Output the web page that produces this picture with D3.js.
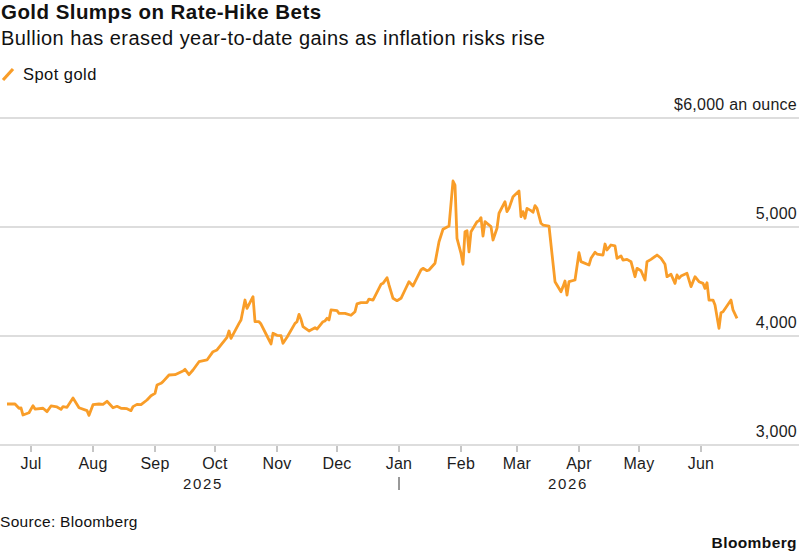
<!DOCTYPE html>
<html>
<head>
<meta charset="utf-8">
<script src="https://cdn.jsdelivr.net/npm/d3@7"></script>
<style>
	body { margin: 0; background: #fff; }
	svg { display: block; font-family: "Liberation Sans", Arial, sans-serif; }
	.grid { stroke: #d2d2d2; stroke-width: 1.3; }
	.tick-mark { stroke: #8c8c8c; stroke-width: 1; }
	.axis-label { font-size: 16px; fill: #1c1c1c; letter-spacing: 0.25px; }
	.year-label { font-size: 15px; fill: #1c1c1c; letter-spacing: 1.6px; }
	.price { fill: none; stroke: #f99d28; stroke-width: 2.8; stroke-linejoin: round; }
</style>
</head>
<body>
<svg id="chart" width="799" height="555"></svg>
<script>
var dates = [
	"2025-06-19", "2025-06-23", "2025-06-25", "2025-06-26", "2025-06-27", "2025-06-30",
	"2025-07-02", "2025-07-03", "2025-07-07", "2025-07-09", "2025-07-11", "2025-07-14",
	"2025-07-16", "2025-07-17", "2025-07-19", "2025-07-22", "2025-07-25", "2025-07-29",
	"2025-07-30", "2025-08-01", "2025-08-04", "2025-08-06", "2025-08-08", "2025-08-11",
	"2025-08-13", "2025-08-15", "2025-08-18", "2025-08-20", "2025-08-21", "2025-08-23",
	"2025-08-25", "2025-08-28", "2025-08-30", "2025-09-01", "2025-09-02", "2025-09-04",
	"2025-09-05", "2025-09-08", "2025-09-11", "2025-09-15", "2025-09-16", "2025-09-18",
	"2025-09-20", "2025-09-23", "2025-09-27", "2025-09-30", "2025-10-02", "2025-10-07",
	"2025-10-08", "2025-10-09", "2025-10-13", "2025-10-14", "2025-10-16", "2025-10-17",
	"2025-10-20", "2025-10-21", "2025-10-23", "2025-10-24", "2025-10-27", "2025-10-29",
	"2025-10-30", "2025-11-01", "2025-11-03", "2025-11-04", "2025-11-06", "2025-11-10",
	"2025-11-11", "2025-11-12", "2025-11-13", "2025-11-14", "2025-11-17", "2025-11-20",
	"2025-11-21", "2025-11-24", "2025-11-25", "2025-11-26", "2025-11-27", "2025-11-28",
	"2025-12-01", "2025-12-02", "2025-12-05", "2025-12-08", "2025-12-10", "2025-12-11",
	"2025-12-13", "2025-12-16", "2025-12-17", "2025-12-19", "2025-12-23", "2025-12-24",
	"2025-12-26", "2025-12-27", "2025-12-29", "2025-12-31", "2026-01-02", "2026-01-04",
	"2026-01-06", "2026-01-08", "2026-01-12", "2026-01-13", "2026-01-15", "2026-01-16",
	"2026-01-19", "2026-01-21", "2026-01-23", "2026-01-26", "2026-01-28", "2026-01-29",
	"2026-01-30", "2026-02-01", "2026-02-02", "2026-02-03", "2026-02-04", "2026-02-05",
	"2026-02-06", "2026-02-09", "2026-02-10", "2026-02-11", "2026-02-12", "2026-02-13",
	"2026-02-14", "2026-02-16", "2026-02-17", "2026-02-19", "2026-02-20", "2026-02-23",
	"2026-02-24", "2026-02-25", "2026-02-27", "2026-03-02", "2026-03-03", "2026-03-04",
	"2026-03-05", "2026-03-06", "2026-03-08", "2026-03-09", "2026-03-10", "2026-03-11",
	"2026-03-13", "2026-03-14", "2026-03-17", "2026-03-20", "2026-03-23", "2026-03-24",
	"2026-03-25", "2026-03-26", "2026-03-27", "2026-03-30", "2026-04-01", "2026-04-02",
	"2026-04-06", "2026-04-07", "2026-04-09", "2026-04-10", "2026-04-13", "2026-04-14",
	"2026-04-15", "2026-04-17", "2026-04-19", "2026-04-20", "2026-04-22", "2026-04-23",
	"2026-04-25", "2026-04-27", "2026-04-29", "2026-04-30", "2026-05-02", "2026-05-04",
	"2026-05-05", "2026-05-07", "2026-05-10", "2026-05-12", "2026-05-14", "2026-05-15",
	"2026-05-17", "2026-05-19", "2026-05-20", "2026-05-21", "2026-05-22", "2026-05-25",
	"2026-05-27", "2026-05-29", "2026-05-31", "2026-06-02", "2026-06-03", "2026-06-04",
	"2026-06-05", "2026-06-07", "2026-06-08", "2026-06-10", "2026-06-11", "2026-06-12",
	"2026-06-16", "2026-06-17", "2026-06-19"
];
var spotGold = [
	3376, 3376, 3337, 3340, 3275, 3296,
	3361, 3330, 3337, 3306, 3358, 3349,
	3327, 3352, 3346, 3431, 3342, 3315,
	3272, 3370, 3376, 3373, 3401, 3342,
	3355, 3337, 3333, 3315, 3352, 3373,
	3370, 3413, 3452, 3474, 3550, 3566,
	3581, 3642, 3645, 3679, 3694, 3645,
	3688, 3764, 3780, 3856, 3872, 3988,
	4046, 3979, 4116, 4147, 4330, 4254,
	4361, 4131, 4131, 4110, 4000, 3927,
	4025, 4006, 4003, 3933, 3988, 4116,
	4131, 4199, 4153, 4086, 4046, 4076,
	4064, 4131, 4138, 4162, 4147, 4239,
	4232, 4208, 4208, 4190, 4223, 4294,
	4306, 4306, 4339, 4330, 4474, 4483,
	4535, 4468, 4346, 4324, 4346, 4422,
	4498, 4459, 4606, 4621, 4599, 4606,
	4667, 4865, 4979, 5009, 5422, 5385,
	4896, 4759, 4658, 4957, 4966, 4773,
	4957, 5049, 5058, 5086, 4917, 5049,
	5034, 5003, 4881, 4988, 5126, 5232,
	5141, 5171, 5278, 5330, 5095, 5141,
	5080, 5171, 5150, 5135, 5196, 5171,
	5034, 5018, 5009, 4498, 4406, 4453,
	4505, 4376, 4498, 4514, 4764, 4682,
	4651, 4713, 4768, 4752, 4743, 4844,
	4789, 4835, 4826, 4713, 4734, 4697,
	4703, 4682, 4544, 4621, 4599, 4514,
	4682, 4703, 4743, 4713, 4658, 4544,
	4566, 4483, 4560, 4529, 4550, 4575,
	4453, 4544, 4498, 4483, 4437, 4489,
	4330, 4330, 4284, 4070, 4214, 4223,
	4330, 4239, 4162
];
var yTicks = [3000, 4000, 5000, 6000];
var yearLabels = ["2025", "2026"];
var title = "Gold Slumps on Rate-Hike Bets";
var subtitle = "Bullion has erased year-to-date gains as inflation risks rise";
var seriesName = "Spot gold";
var source = "Source: Bloomberg";

(function () {
	var svg, width, series, x, y, parseDate, line, yearStart;

	svg = d3.select("#chart");
	width = 799;
	parseDate = d3.timeParse("%Y-%m-%d");

	series = dates.map(function (d, i) {
		return { date: parseDate(d), value: spotGold[i] };
	});

	x = d3.scaleTime()
		.domain(d3.extent(series, function (d) { return d.date; }))
		.range([7, 737]);

	y = d3.scaleLinear()
		.domain([3000, 6000])
		.range([445, 118]);

	drawHeader();
	drawGrid();
	drawXAxis();
	drawLine();
	drawFooter();

	function drawHeader() {
		svg.append("text")
			.text(title)
			.attr("x", 1)
			.attr("y", 19)
			.style("font-size", "20.5px")
			.style("font-weight", "bold")
			.style("letter-spacing", "0.45px")
			.style("fill", "#111");

		svg.append("text")
			.text(subtitle)
			.attr("x", 1)
			.attr("y", 45)
			.style("font-size", "20px")
			.style("letter-spacing", "0.45px")
			.style("fill", "#111");

		svg.append("line")
			.attr("x1", 3).attr("y1", 80)
			.attr("x2", 13).attr("y2", 69)
			.style("stroke", "#f99d28")
			.style("stroke-width", 3.2);

		svg.append("text")
			.text(seriesName)
			.attr("x", 23)
			.attr("y", 80)
			.style("font-size", "16.5px")
			.style("letter-spacing", "0.45px")
			.style("fill", "#111");
	}

	function drawGrid() {
		svg.selectAll(".grid")
			.data(yTicks).enter()
			.append("line")
			.attr("class", "grid")
			.attr("x1", 0)
			.attr("x2", width)
			.attr("y1", function (d) { return y(d); })
			.attr("y2", function (d) { return y(d); });

		svg.selectAll(".y-label")
			.data(yTicks).enter()
			.append("text")
			.attr("class", "axis-label y-label")
			.attr("x", width - 2)
			.attr("y", function (d) { return y(d) - 8; })
			.attr("text-anchor", "end")
			.text(function (d, i) {
				var s = d3.format(",")(d);
				return i === yTicks.length - 1 ? "$" + s + " an ounce" : s;
			});
	}

	function drawXAxis() {
		var months = d3.timeMonth.range(d3.timeMonth.ceil(x.domain()[0]), x.domain()[1]);

		svg.selectAll(".tick-mark")
			.data(months).enter()
			.append("line")
			.attr("class", "tick-mark")
			.attr("x1", function (d) { return x(d); })
			.attr("x2", function (d) { return x(d); })
			.attr("y1", 446)
			.attr("y2", 452);

		svg.selectAll(".x-label")
			.data(months).enter()
			.append("text")
			.attr("class", "axis-label x-label")
			.attr("x", function (d) { return x(d); })
			.attr("y", 469)
			.attr("text-anchor", "middle")
			.text(function (d) { return d3.timeFormat("%b")(d); });

		yearStart = x(parseDate(yearLabels[1] + "-01-01"));

		svg.selectAll(".year-label")
			.data(yearLabels).enter()
			.append("text")
			.attr("class", "year-label")
			.attr("x", function (d, i) {
				return i === 0 ? (x.range()[0] + yearStart) / 2 : (yearStart + x.range()[1]) / 2;
			})
			.attr("y", 489)
			.attr("text-anchor", "middle")
			.text(function (d) { return d; });

		svg.append("line")
			.attr("x1", yearStart).attr("x2", yearStart)
			.attr("y1", 477).attr("y2", 490)
			.style("stroke", "#333")
			.style("stroke-width", 1);
	}

	function drawLine() {
		line = d3.line()
			.x(function (d) { return x(d.date); })
			.y(function (d) { return y(d.value); });

		svg.append("path")
			.datum(series)
			.attr("class", "price")
			.attr("d", line);
	}

	function drawFooter() {
		svg.append("text")
			.text(source)
			.attr("x", 0)
			.attr("y", 527)
			.style("font-size", "15.5px")
			.style("letter-spacing", "0.3px")
			.style("fill", "#111");

		svg.append("text")
			.text("Bloomberg")
			.attr("x", width - 2)
			.attr("y", 548)
			.attr("text-anchor", "end")
			.style("font-size", "15.5px")
			.style("font-weight", "bold")
			.style("letter-spacing", "0.4px")
			.style("fill", "#111");
	}
})();
</script>
</body>
</html>
